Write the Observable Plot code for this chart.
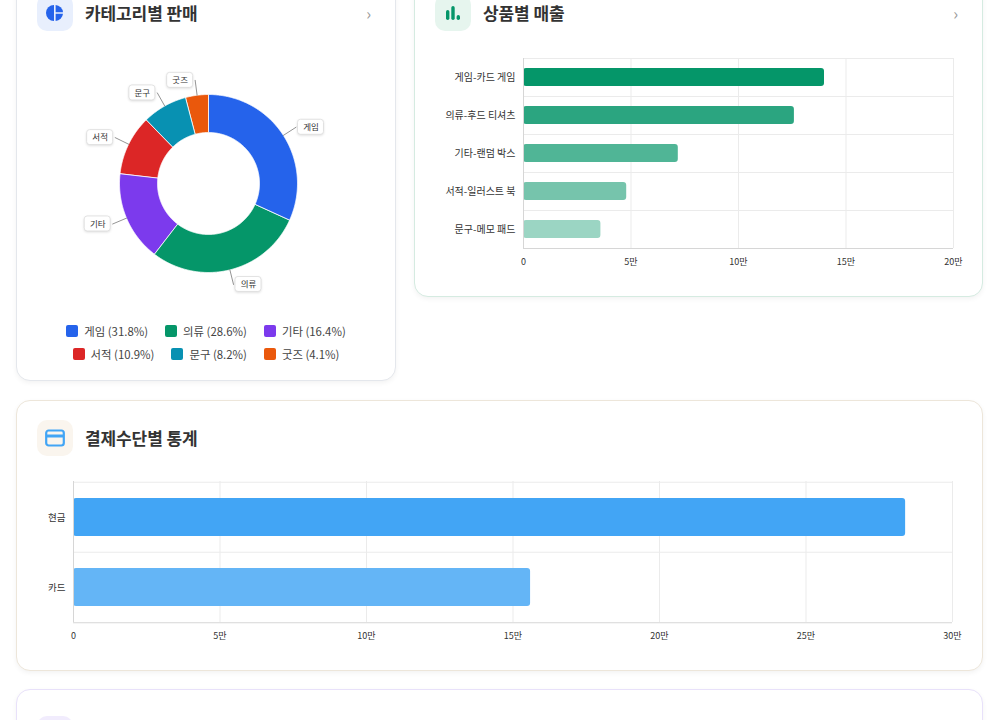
<!DOCTYPE html>
<html><head><meta charset="utf-8">
<script src="https://cdn.jsdelivr.net/npm/d3@7"></script>
<script src="https://cdn.jsdelivr.net/npm/@observablehq/plot@0.6"></script>
<style>
  html,body{margin:0;padding:0;background:#fff;width:1000px;height:720px;overflow:hidden;
    font-family:"Noto Sans CJK KR","Noto Sans",sans-serif;color:#333;}
  .card{position:absolute;background:#fff;border:1px solid #e5e7eb;border-radius:14px;
    box-shadow:0 2px 5px rgba(0,0,0,0.05);box-sizing:border-box;}
  .icon{position:absolute;left:20px;width:36px;height:36px;border-radius:10px;display:flex;
    align-items:center;justify-content:center;}
  .title{position:absolute;left:68px;height:36px;line-height:36px;font-size:17px;font-weight:600;
    color:#333;letter-spacing:-0.1px;}
  .chev{position:absolute;right:24px;height:36px;line-height:36px;font-size:16px;color:#9a9a9a;}
  .chart{position:absolute;}
  .legend{position:absolute;left:0;width:100%;font-size:11.4px;color:#444;}
  .lrow{display:flex;justify-content:center;gap:17px;height:23px;align-items:center;}
  .litem{display:flex;align-items:center;gap:6px;}
  .sw{width:12px;height:12px;border-radius:2px;display:inline-block;}
  .donut rect{filter:drop-shadow(0 1px 1px rgba(0,0,0,0.12));}
</style>
</head><body>

<div class="card" id="c1" style="left:16px;top:-26px;width:380px;height:407px;border-color:#e4e7ec;">
  <div class="icon" style="top:20px;background:#e8effd;">
    <svg width="18" height="18" viewBox="0 0 18 18">
      <path d="M8 1 A8 8 0 0 0 8 17 Z" fill="#2563eb"/>
      <path d="M9.6 1 A8 8 0 0 1 17 8.2 L9.6 8.2 Z" fill="#2563eb"/>
      <path d="M9.6 9.8 L17 9.8 A8 8 0 0 1 9.6 17 Z" fill="#2563eb"/>
    </svg>
  </div>
  <div class="title" style="top:20px;">카테고리별 판매</div>
  <div class="chev" style="top:20px;">›</div>
  <div class="chart donut" id="donut" style="left:41px;top:78px;"></div>
  <div class="legend" id="legend" style="top:344px;"></div>
</div>

<div class="card" id="c2" style="left:414px;top:-26px;width:569px;height:323px;border-color:#d5ebe1;">
  <div class="icon" style="top:20px;background:#e6f5ee;">
    <svg width="16" height="16" viewBox="0 0 16 16">
      <rect x="1" y="5" width="3.4" height="10" rx="1.7" fill="#059669"/>
      <rect x="6.3" y="1" width="3.4" height="14" rx="1.7" fill="#059669"/>
      <rect x="11.6" y="10" width="3.4" height="5" rx="1.7" fill="#059669"/>
    </svg>
  </div>
  <div class="title" style="top:20px;">상품별 매출</div>
  <div class="chev" style="top:20px;">›</div>
  <div class="chart" id="products" style="left:17px;top:73px;"></div>
</div>

<div class="card" id="c3" style="left:16px;top:400px;width:967px;height:271px;border-color:#ede6da;">
  <div class="icon" style="top:19px;background:#faf5ee;">
    <svg width="20" height="18" viewBox="0 0 20 18">
      <rect x="1.2" y="1.5" width="17.6" height="15" rx="2.5" fill="none" stroke="#42a5f5" stroke-width="2.2"/>
      <rect x="1.2" y="5.5" width="17.6" height="3" fill="#42a5f5"/>
    </svg>
  </div>
  <div class="title" style="top:19px;">결제수단별 통계</div>
  <div class="chart" id="payments" style="left:17px;top:70px;"></div>
</div>

<div class="card" id="c4" style="left:16px;top:689px;width:967px;height:200px;border-color:#e8e1fa;">
  <div class="icon" style="top:26px;background:#f1ecfd;"></div>
</div>

<script>
// ---------- data ----------
const categories = ["게임", "의류", "기타", "서적", "문구", "굿즈"];
const categoryValues = [140000, 126000, 72000, 48000, 36000, 18000];
const categoryColors = ["#2563eb", "#059669", "#7c3aed", "#dc2626", "#0891b2", "#ea580c"];

const products = ["게임-카드 게임", "의류-후드 티셔츠", "기타-랜덤 박스", "서적-일러스트 북", "문구-메모 패드"];
const productValues = [140000, 126000, 72000, 48000, 36000];
const productColors = ["#059669", "#2ba580", "#50b596", "#76c4ac", "#9bd5c3"];
const productTicks = [0, 50000, 100000, 150000, 200000];

const payMethods = ["현금", "카드"];
const payValues = [284000, 156000];
const payColors = ["#42a5f5", "#64b5f6"];
const payTicks = [0, 50000, 100000, 150000, 200000, 250000, 300000];

const fmtMan = d => d === 0 ? "0" : (d / 10000) + "만";
const FONT = '"Noto Sans CJK KR","Noto Sans",sans-serif';

// ---------- donut ----------
const total = d3.sum(categoryValues);
const R = 89, R0 = 51, RL = 104;
let acc = 0;
const slices = categories.map((c, i) => {
  const a0 = acc / total * 2 * Math.PI;
  acc += categoryValues[i];
  const a1 = acc / total * 2 * Math.PI;
  return {c, a0, a1, m: (a0 + a1) / 2};
});
const ringPts = [];
for (const s of slices) {
  const n = Math.max(2, Math.ceil((s.a1 - s.a0) / (Math.PI / 360)));
  for (let k = 0; k <= n; k++) {
    const a = s.a0 + (s.a1 - s.a0) * k / n;
    ringPts.push({c: s.c, x: R * Math.sin(a), y: R * Math.cos(a)});
  }
  for (let k = n; k >= 0; k--) {
    const a = s.a0 + (s.a1 - s.a0) * k / n;
    ringPts.push({c: s.c, x: R0 * Math.sin(a), y: R0 * Math.cos(a)});
  }
}
const labels = slices.map(s => {
  const side = Math.sin(s.m) >= 0 ? 1 : -1;
  const ax = RL * Math.sin(s.m), ay = RL * Math.cos(s.m);
  return {c: s.c, ax, ay, ex: R * Math.sin(s.m), ey: R * Math.cos(s.m), lx: ax + side * 15, ly: ay};
});
const leaderPts = labels.flatMap(l => [{c: l.c, x: l.ex, y: l.ey}, {c: l.c, x: l.ax, y: l.ay}]);

const donut = Plot.plot({
  width: 300, height: 260, margin: 0,
  x: {domain: [-150, 150], axis: null},
  y: {domain: [-130, 130], axis: null},
  color: {domain: categories, range: categoryColors},
  style: {fontFamily: FONT, background: "transparent"},
  marks: [
    Plot.line(ringPts, {x: "x", y: "y", z: "c", fill: "c", stroke: "#fff", strokeWidth: 0.8, curve: "linear-closed"}),
    Plot.line(leaderPts, {x: "x", y: "y", z: "c", stroke: "#777", strokeWidth: 0.8}),
    Plot.rect(labels, {x1: d => d.lx - 13, x2: d => d.lx + 13, y1: d => d.ly - 7.5, y2: d => d.ly + 7.5,
      fill: "#fff", stroke: "#dcdcdc", strokeWidth: 0.8, rx: 3}),
    Plot.text(labels, {x: "lx", y: "ly", text: "c", fontSize: 8.5, fill: "#333"})
  ]
});
document.getElementById("donut").appendChild(donut);

// legend (HTML)
const legend = document.getElementById("legend");
[categories.slice(0, 3), categories.slice(3)].forEach(row => {
  const r = document.createElement("div");
  r.className = "lrow";
  row.forEach(c => {
    const i = categories.indexOf(c);
    const pct = (categoryValues[i] / total * 100).toFixed(1);
    const it = document.createElement("div");
    it.className = "litem";
    it.innerHTML = `<span class="sw" style="background:${categoryColors[i]}"></span><span>${c} (${pct}%)</span>`;
    r.appendChild(it);
  });
  legend.appendChild(r);
});

// ---------- horizontal bar helper ----------
function hbar({names, values, colors, ticks, width, height, ml, mr, mt, mb, inset, step, labelSize}) {
  const data = names.map((n, i) => ({name: n, value: values[i], color: colors[i]}));
  return Plot.plot({
    width, height, marginLeft: ml, marginRight: mr, marginTop: mt, marginBottom: mb,
    x: {domain: [ticks[0], ticks[ticks.length - 1]]},
    y: {domain: names, padding: 0},
    style: {fontFamily: FONT, background: "transparent", color: "#333"},
    marks: [
      Plot.gridX({ticks, stroke: "#ebebeb", strokeOpacity: 1}),
      Plot.ruleY(names, {y: d => d, dy: -step / 2, stroke: "#ebebeb"}),
      Plot.barX(data, {y: "name", x: "value", fill: "color", insetTop: inset, insetBottom: inset, rx: 3}),
      Plot.ruleY([names[names.length - 1]], {y: d => d, dy: step / 2, stroke: "#d6d6d6"}),
      Plot.ruleX([0], {stroke: "#d6d6d6"}),
      Plot.axisX({ticks, tickSize: 0, tickPadding: 10, tickFormat: fmtMan, fontSize: 9, label: null}),
      Plot.axisY({tickSize: 0, tickPadding: 8, fontSize: labelSize, label: null})
    ]
  });
}

document.getElementById("products").appendChild(hbar({
  names: products, values: productValues, colors: productColors, ticks: productTicks,
  width: 532, height: 230, ml: 91, mr: 11, mt: 10, mb: 30, inset: 10, step: 38, labelSize: 10
}));

document.getElementById("payments").appendChild(hbar({
  names: payMethods, values: payValues, colors: payColors, ticks: payTicks,
  width: 929, height: 181, ml: 39, mr: 11, mt: 10, mb: 30, inset: 16, step: 70.5, labelSize: 9.5
}));
</script>
</body></html>
